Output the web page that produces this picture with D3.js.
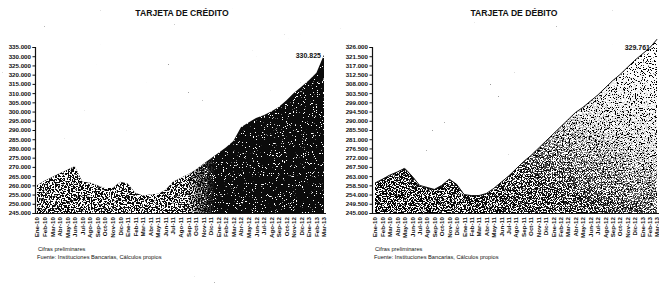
<!doctype html>
<html>
<head>
<meta charset="utf-8">
<title>Tarjetas de crédito y débito</title>
<script src="https://d3js.org/d3.v7.min.js"></script>
<style>
  body { margin: 0; background: #fff; }
  svg { display: block; font-family: "Liberation Sans", Arial, sans-serif; }
  .tick text { font-size: 6.2px; font-weight: bold; fill: #111; }
  .ttl { font-size: 8.6px; font-weight: bold; fill: #111; }
  .note { font-size: 5.7px; fill: #111; }
</style>
</head>
<body>
<div id="plot"></div>
<script>
// months shown on the x axis
const months = ["Ene-10","Feb-10","Mar-10","Abr-10","May-10","Jun-10","Jul-10","Ago-10","Sep-10","Oct-10","Nov-10","Dic-10",
  "Ene-11","Feb-11","Mar-11","Abr-11","May-11","Jun-11","Jul-11","Ago-11","Sep-11","Oct-11","Nov-11","Dic-11",
  "Ene-12","Feb-12","Mar-12","Abr-12","May-12","Jun-12","Jul-12","Ago-12","Sep-12","Oct-12","Nov-12","Dic-12",
  "Ene-13","Feb-13","Mar-13"];

// number of cards (thousands)
const credito = [260,262.5,264.5,266.5,268.5,270.5,262,261.5,260,258.5,258.5,262,261,256,254.5,255,255.5,257.5,262,264,
  266,268.5,271.5,274.5,277.5,280.5,284,291.5,294,296.5,298,300,302.5,306,310,313.5,317,321,330.825];
const debito = [259.6,261.5,263.5,265,266.8,263,258.5,257.5,256.5,258.5,261.5,259,254,253.5,253.5,254.5,257,260,263,266.5,
  270,273,276.5,280,283.5,287,290.5,294,296.5,299.5,302.5,306,309.5,312.5,316,319.5,322.5,325.5,329.761];

const ticksCredito = d3.range(245000, 335001, 5000);
const ticksDebito = d3.range(245000, 326001, 4500);

const W = 659, H = 290;
const yTop = 47, yBot = 213;
const svg = d3.select("#plot").append("svg").attr("width", W).attr("height", H);
const defs = svg.append("defs");

// scanned stipple textures: noise thresholded into dots
function speckFilter(id, freq, thr, seed, c) {
  const f = defs.append("filter").attr("id", id)
    .attr("x", 0).attr("y", 0).attr("width", 1).attr("height", 1)
    .attr("color-interpolation-filters", "sRGB");
  f.append("feTurbulence").attr("type", "fractalNoise")
    .attr("baseFrequency", freq).attr("numOctaves", 2).attr("seed", seed).attr("result", "n");
  f.append("feColorMatrix").attr("in", "n").attr("type", "matrix")
    .attr("values", `0 0 0 0 ${c}  0 0 0 0 ${c}  0 0 0 0 ${c}  30 0 0 0 ${-30 * thr}`);
}
speckFilter("whiteDense", 0.7, 0.5, 3, 1);
speckFilter("whiteSparse", 0.9, 0.67, 11, 1);
speckFilter("blackDense", 0.8, 0.48, 7, 0);
speckFilter("blackSparse", 0.85, 0.6, 5, 0);
speckFilter("dust", 0.5, 0.83, 21, 0);

function grad(id, stops, x1, y1, x2, y2) {
  const g = defs.append("linearGradient").attr("id", id)
    .attr("x1", x1).attr("y1", y1).attr("x2", x2).attr("y2", y2);
  stops.forEach(s => g.append("stop").attr("offset", s[0]).attr("stop-color", "#fff").attr("stop-opacity", s[1]));
}
grad("gCred", [[0, 1], [0.52, 1], [0.62, 0]], 0, 0, 1, 0);
grad("gDeb", [[0, 1], [0.4, 0.9], [0.7, 0.2], [1, 0]], 0, 1, 0.8, 0);

function speckLayer(g, o, filt, withMask) {
  const r = g.append("g").attr("clip-path", `url(#clip${o.id})`);
  if (withMask) r.attr("mask", `url(#mask${o.id})`);
  r.append("rect").attr("x", o.x0 - 3).attr("y", 20).attr("width", o.x1 - o.x0 + 6).attr("height", 200)
    .attr("fill", "#888").attr("filter", `url(#${filt})`);
}

function panel(o) {
  const g = svg.append("g");
  const x = d3.scalePoint().domain(months).range([o.x0, o.x1]);
  const y = d3.scaleLinear().domain([245, o.top]).range([yBot, yTop]);
  const pts = months.map((m, i) => [x(m), y(o.values[i])]);

  const area = d3.area().x(d => d[0]).y0(y(245)).y1(d => d[1]);
  const line = d3.line().x(d => d[0]).y(d => d[1]);

  defs.append("clipPath").attr("id", "clip" + o.id).append("path").attr("d", area(pts));
  defs.append("mask").attr("id", "mask" + o.id).append("rect")
    .attr("x", o.x0).attr("y", yTop - 5).attr("width", o.x1 - o.x0).attr("height", yBot - yTop + 5)
    .attr("fill", `url(#${o.grad})`);

  if (o.dark) {
    g.append("path").attr("d", area(pts)).attr("fill", "#0b0b0b");
    speckLayer(g, o, "whiteDense", true);
    speckLayer(g, o, "whiteSparse", false);
  } else {
    speckLayer(g, o, "blackSparse", false);
    speckLayer(g, o, "blackDense", true);
    g.append("path").attr("d", line(pts)).attr("fill", "none").attr("stroke", "#111").attr("stroke-width", 1);
  }

  // y axis
  const yv = d3.scaleLinear().domain([245000, o.top * 1000]).range([yBot, yTop]);
  g.append("g").attr("transform", `translate(${o.ax},0)`)
    .call(d3.axisLeft(yv).tickValues(o.ticks).tickSize(2.5).tickPadding(1.5)
      .tickFormat(d => d3.format(",.3f")(d / 1000).replace(",", ".")))
    .call(a => a.select(".domain").attr("stroke", "#111").attr("stroke-width", 1.2))
    .call(a => a.selectAll("line").attr("stroke", "#111"));

  // x axis
  g.append("g").attr("transform", `translate(0,${y(245)})`)
    .call(d3.axisBottom(x).tickSize(0).tickPadding(3))
    .call(a => a.select(".domain").attr("stroke", "#111").attr("stroke-width", 1.2)
      .attr("d", `M${o.ax},0.5H${o.x1 + 2}`))
    .selectAll("text")
      .attr("transform", "rotate(-90)")
      .attr("text-anchor", "end").attr("dy", "0.32em").attr("y", 0).attr("x", -4);

  svg.append("text").attr("class", "ttl").attr("x", o.tx).attr("y", 16)
    .attr("text-anchor", "middle").text(o.title);
  svg.append("text").attr("class", "note").attr("x", o.ax + 3).attr("y", 251).text("Cifras preliminares");
  svg.append("text").attr("class", "note").attr("x", o.ax + 2).attr("y", 259)
    .text("Fuente: Instituciones Bancarias, Cálculos propios");
  svg.append("text").attr("x", o.lx).attr("y", o.ly)
    .attr("text-anchor", "end").style("font-size", "7px").style("font-weight", "bold").attr("fill", "#111")
    .text(d3.format(".3f")(o.values[o.values.length - 1]));
}

// faint scan dust over the page
svg.insert("rect", ":first-child").attr("x", 0).attr("y", 0).attr("width", W).attr("height", H)
  .attr("fill", "#888").attr("filter", "url(#dust)").attr("opacity", 0.6);

panel({id: "c", title: "TARJETA DE CRÉDITO", values: credito, top: 335, ticks: ticksCredito,
  x0: 37, x1: 324, ax: 35, tx: 182, dark: true, grad: "gCred", lx: 321, ly: 58});
panel({id: "d", title: "TARJETA DE DÉBITO", values: debito, top: 326, ticks: ticksDebito,
  x0: 375, x1: 657, ax: 372, tx: 514, dark: false, grad: "gDeb", lx: 650, ly: 50});
</script>
</body>
</html>
